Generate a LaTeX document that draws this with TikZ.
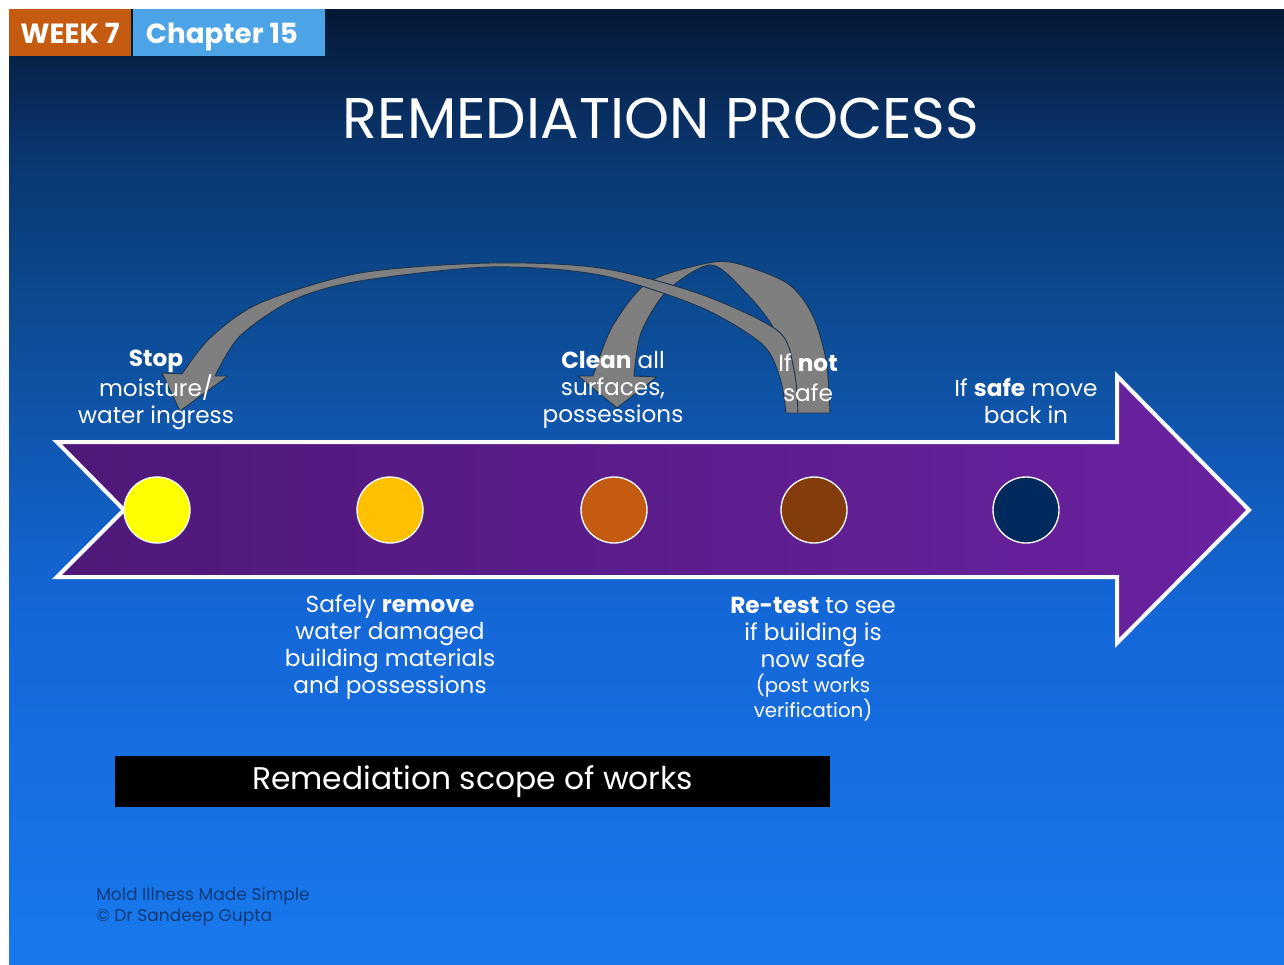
\documentclass[tikz,border=0pt]{standalone}
\usepackage{fontspec}
\setmainfont{Poppins}
\definecolor{bgA}{HTML}{051834}
\definecolor{bgB}{HTML}{0A3670}
\definecolor{bgC}{HTML}{0C4A90}
\definecolor{bgD}{HTML}{1466D6}
\definecolor{bgE}{HTML}{1879EE}
\definecolor{purpL}{HTML}{4E1878}
\definecolor{purpR}{HTML}{6A22A0}
\definecolor{weekc}{HTML}{C55A11}
\definecolor{chapc}{HTML}{4CA4E6}
\definecolor{cYellow}{HTML}{FFFF00}
\definecolor{cGold}{HTML}{FFC000}
\definecolor{cOrange}{HTML}{C55A11}
\definecolor{cBrown}{HTML}{843C0C}
\definecolor{cNavy}{HTML}{002A5E}
\definecolor{arrgray}{HTML}{7F7F7F}
\definecolor{arredge}{HTML}{1C3550}
\definecolor{footc}{HTML}{103A78}
\pgfdeclareverticalshading{bgshade}{100bp}{color(0bp)=(bgE); color(25bp)=(bgE); color(44bp)=(bgD); color(59.7bp)=(bgC); color(67.5bp)=(bgB); color(75bp)=(bgA); color(100bp)=(bgA)}
\tikzset{
  lbl/.style={text=white, align=center, inner sep=0pt, font=\fontsize{17.4}{20.25}\selectfont},
  dot/.style={circle, draw=white, line width=1pt, minimum size=49.5pt, inner sep=0pt},
  curvearr/.style={fill=arrgray, draw=arredge, line width=0.7pt, line join=round},
  badge/.style={text=white, inner sep=0pt, anchor=base, font=\fontsize{20.8}{24}\selectfont\bfseries}
}
\begin{document}
\begin{tikzpicture}[x=0.75pt,y=-0.75pt]
\useasboundingbox (0,0) rectangle (1284,964);
\fill[white] (0,0) rectangle (1284,964);
\shade[shading=bgshade] (9,9) rectangle (1284,964);
% badges
\fill[weekc] (9,9) rectangle (131,56);
\fill[chapc] (133,9) rectangle (325,56);
\node[badge] (week) at (70,43) {WEEK 7};
\node[badge] (chap) at (222,43) {Chapter 15};
% title
\node[text=white, inner sep=0pt, font=\fontsize{43}{50}\selectfont] (title) at (661,118) {REMEDIATION PROCESS};
% main arrow
\shade[left color=purpL, right color=purpR, draw=white, line width=3pt, line join=miter]
  (57,442) -- (1117,442) -- (1117,376) -- (1249,510) -- (1117,643) -- (1117,577) -- (57,577) -- (124,510) -- cycle;
% dots
\node[dot, fill=cYellow] (d1) at (157,510) {};
\node[dot, fill=cGold] (d2) at (390,510) {};
\node[dot, fill=cOrange] (d3) at (614,510) {};
\node[dot, fill=cBrown] (d4) at (814,510) {};
\node[dot, fill=cNavy] (d5) at (1026,510) {};
% curved arrow to Clean
\filldraw[curvearr] (578,376) -- (617,408) -- (657,377) -- (634,376)
  -- plot[smooth] coordinates {(634,376) (641,333) (667,291) (711,265) (746,293) (773,327) (786,365) (793,413)}
  -- (830,413)
  -- plot[smooth] coordinates {(830,413) (826,360) (812,314) (787,283) (735,263) (703,264) (647,283) (612,327) (593,376)}
  -- cycle;
% curved arrow to Stop
\filldraw[curvearr] (162,373) -- (180,411) -- (228,376) -- (215,376)
  -- plot[smooth] coordinates {(215,376) (240,336) (293,300) (360,281) (490,267) (600,275) (700,307) (762,344) (780,378) (786,413)}
  -- (798,413)
  -- plot[smooth] coordinates {(798,413) (794,370) (778,331) (700,294) (600,268) (490,263) (360,273) (260,303) (210,338) (182,374)}
  -- cycle;
% labels
\node[lbl] (stop) at (156,390) {\textbf{Stop}\\moisture/\\water ingress};
\node[lbl] (clean) at (613,390) {\textbf{Clean} all\\surfaces,\\possessions};
\node[lbl, font=\fontsize{17.4}{22.5}\selectfont] (notsafe) at (808,378) {If \textbf{not}\\safe};
\node[lbl] (safe) at (1026,401) {If \textbf{safe} move\\back in};
\node[lbl] (remove) at (390,647) {Safely \textbf{remove}\\water damaged\\building materials\\and possessions};
\node[lbl] (retest) at (813,632) {\textbf{Re-test} to see\\if building is\\now safe};
\node[lbl, font=\fontsize{14.8}{16.5}\selectfont] (retestnote) at (813,698) {(post works\\verification)};
% scope box
\node[fill=black, minimum width=536.25pt, minimum height=38.25pt, inner sep=0pt, text=white, font=\fontsize{23.5}{28}\selectfont] (scope) at (472.5,781.5) {Remediation scope of works};
% footer
\node[text=footc, align=left, anchor=west, inner sep=0pt, font=\fontsize{12.8}{15.75}\selectfont] (foot) at (96,907) {Mold Illness Made Simple\\© Dr Sandeep Gupta};
\end{tikzpicture}
\end{document}
